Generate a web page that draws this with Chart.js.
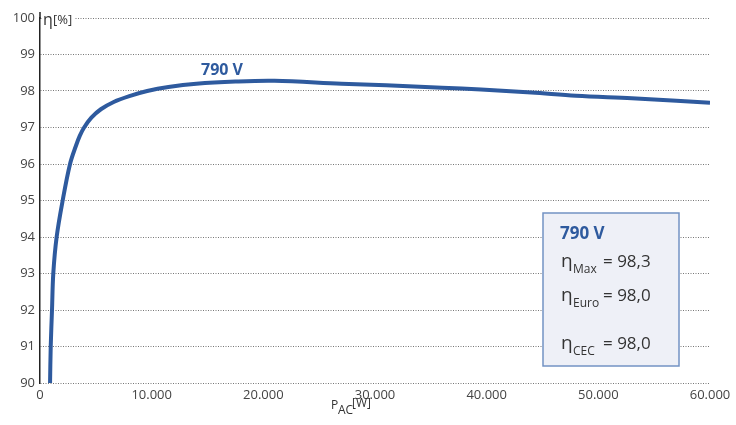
<!DOCTYPE html>
<html>
<head>
<meta charset="utf-8">
<script src="https://cdn.jsdelivr.net/npm/chart.js@4/dist/chart.umd.min.js"></script>
<style>
  html, body { margin: 0; padding: 0; background: #fff; }
  #wrap { width: 736px; height: 425px; }
</style>
</head>
<body>
<div id="wrap"><canvas id="chart1"></canvas></div>
<script>
"use strict";

// P_AC [W] and efficiency [%]
var powerAC = [900, 960, 1075, 1190, 1490, 2030, 2690, 3220, 3560, 3950, 4600, 5450, 6600, 8000, 9600, 11500, 14000, 17500, 21000, 27000, 31000, 36000, 39500, 44000, 48000, 53000, 57000, 60000];
var efficiency = [90, 91, 92, 93, 94, 95, 96, 96.5, 96.77, 97, 97.27, 97.5, 97.7, 97.86, 98.0, 98.11, 98.2, 98.26, 98.28, 98.2, 98.16, 98.09, 98.04, 97.96, 97.87, 97.8, 97.73, 97.68];
var seriesName = '790 V';
var boxRows = [['Max', '98,3'], ['Euro', '98,0'], ['CEC', '98,0']];

var blue = '#2e5a9e';
var fontName = "'Open Sans', 'DejaVu Sans', sans-serif";

function fmt(v) {
  return String(v).replace(/\B(?=(\d{3})+(?!\d))/g, '.');
}

var points = powerAC.map(function (p, i) {
  return { x: p, y: efficiency[i] };
});

var labelsPlugin = {
  id: 'labels',
  afterDatasetsDraw: function (chart) {
    var c = chart.ctx;
    var xs = chart.scales.x;
    var ys = chart.scales.y;
    c.save();

    // axis line goes a bit above the top
    c.strokeStyle = '#222';
    c.lineWidth = 1.5;
    c.beginPath();
    c.moveTo(40, 12);
    c.lineTo(40, 19);
    c.stroke();

    // axis title on y
    c.fillStyle = '#fff';
    c.fillRect(42, 10, 32, 16);
    c.fillStyle = '#333';
    c.textBaseline = 'alphabetic';
    c.textAlign = 'left';
    c.font = '16px ' + fontName;
    c.fillText('η', 43, 25);
    c.font = '13px ' + fontName;
    c.fillText('[%]', 53, 24);

    // axis title on x
    c.font = '12px ' + fontName;
    c.fillText('P', 331, 409);
    c.fillText('AC', 338, 414);
    c.fillText('[W]', 352, 407);

    // series label
    c.fillStyle = blue;
    c.font = 'bold 16px ' + fontName;
    c.textAlign = 'center';
    c.fillText(seriesName, xs.getPixelForValue(16300), ys.getPixelForValue(98.45));

    // info box
    c.fillStyle = '#eef0f7';
    c.fillRect(543, 213, 136, 153);
    c.strokeStyle = '#7393c4';
    c.lineWidth = 1.5;
    c.strokeRect(543, 213, 136, 153);

    c.textAlign = 'left';
    c.fillStyle = blue;
    c.font = 'bold 17px ' + fontName;
    c.fillText(seriesName, 560, 239);

    var bases = [267, 301, 349];
    c.fillStyle = '#333';
    boxRows.forEach(function (row, i) {
      var b = bases[i];
      c.font = '19px ' + fontName;
      c.fillText('η', 561, b);
      c.font = '12px ' + fontName;
      c.fillText(row[0], 573, b + 6);
      c.font = '17px ' + fontName;
      c.fillText('= ' + row[1], 603, b);
    });

    c.restore();
  }
};

var ctx = document.getElementById('chart1').getContext('2d');
new Chart(ctx, {
  type: 'scatter',
  data: {
    datasets: [{
      label: seriesName,
      data: points,
      showLine: true,
      borderColor: blue,
      borderWidth: 4,
      pointRadius: 0,
      tension: 0.35,
      fill: false
    }]
  },
  options: {
    responsive: true,
    maintainAspectRatio: false,
    animation: false,
    layout: {
      padding: { left: 0, right: 26, top: 18, bottom: 22 }
    },
    plugins: {
      legend: { display: false },
      tooltip: { enabled: false }
    },
    scales: {
      x: {
        type: 'linear',
        min: 0,
        max: 60000,
        grid: { display: false, drawTicks: false },
        border: { display: false },
        ticks: {
          stepSize: 10000,
          padding: 4,
          maxRotation: 0,
          color: '#444',
          font: { family: fontName, size: 13 },
          callback: function (v) { return fmt(v); }
        },
        afterFit: function (s) { s.height = 20; }
      },
      y: {
        min: 90,
        max: 100,
        grid: {
          color: '#777',
          lineWidth: 1,
          drawTicks: false
        },
        border: { display: true, color: '#222', width: 1.5, dash: [1, 1.5] },
        ticks: {
          stepSize: 1,
          padding: 5,
          color: '#444',
          font: { family: fontName, size: 13 }
        },
        afterFit: function (s) { s.width = 40; }
      }
    }
  },
  plugins: [labelsPlugin]
});
</script>
</body>
</html>
